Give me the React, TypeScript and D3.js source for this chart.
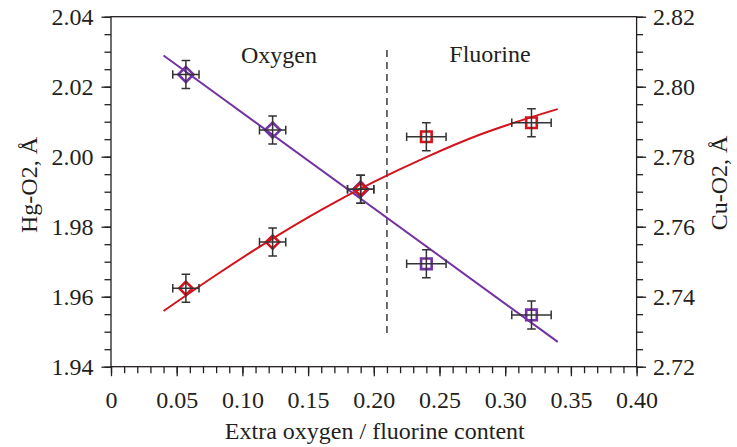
import React, { useEffect, useRef } from 'react'
import * as d3 from 'd3'

const xTicks = [0, 0.05, 0.1, 0.15, 0.2, 0.25, 0.3, 0.35, 0.4]
const hgTicks = [1.94, 1.96, 1.98, 2.0, 2.02, 2.04]
const cuTicks = [2.72, 2.74, 2.76, 2.78, 2.8, 2.82]

const content = [0.057, 0.123, 0.19, 0.24, 0.32]
const phase = ['O', 'O', 'O', 'F', 'F']
const contentErr = [0.01, 0.01, 0.01, 0.015, 0.015]
const hgO2 = [2.0235, 2.0076, 1.9907, 1.9694, 1.9548]
const cuO2 = [2.7424, 2.7556, 2.7707, 2.7857, 2.7897]
const distErr = [0.004, 0.004, 0.004, 0.004, 0.004]

const hgFitX = [0.04, 0.34]
const hgFitY = [2.0289, 1.9471]
const cuFitX = [0.04, 0.08, 0.12, 0.16, 0.2, 0.24, 0.28, 0.32, 0.34]
const cuFitY = [2.7359, 2.7462, 2.7559, 2.7648, 2.7728, 2.7799, 2.7862, 2.7913, 2.7936]

const boundary = 0.21

const W = 737
const H = 447
const margin = { left: 111, right: 100.4, top: 16.7, bottom: 80.3 }
const ink = '#231f20'
const purple = '#7232a3'
const red = '#d3141c'
const font = '"Liberation Serif", "Times New Roman", serif'

const App = () => {
    const ref = useRef<SVGSVGElement>(null)

    useEffect(() => {
        const svg = d3.select(ref.current)
        svg.selectAll('*').remove()

        const x = d3.scaleLinear().domain([0, 0.4]).range([margin.left, W - margin.right])
        const yHg = d3.scaleLinear().domain([1.94, 2.04]).range([H - margin.bottom, margin.top])
        const yCu = d3.scaleLinear().domain([2.72, 2.82]).range([H - margin.bottom, margin.top])

        const g = svg.append('g')

        // frame
        g.append('rect')
            .attr('x', x(0))
            .attr('y', yHg(2.04))
            .attr('width', x(0.4) - x(0))
            .attr('height', yHg(1.94) - yHg(2.04))
            .attr('fill', 'none')
            .attr('stroke', ink)
            .attr('stroke-width', 1.3)

        const styleAxis = sel => {
            sel.select('.domain').remove()
            sel.selectAll('line').attr('stroke', ink).attr('stroke-width', 1.3)
            sel.selectAll('text')
                .attr('fill', ink)
                .attr('font-family', font)
                .attr('font-size', 24)
        }

        // x axis
        g.append('g')
            .attr('transform', `translate(0,${yHg(1.94)})`)
            .call(d3.axisBottom(x).tickValues(d3.range(0, 0.4001, 0.01)).tickSize(6.5).tickFormat(() => ''))
            .call(styleAxis)
        g.append('g')
            .attr('transform', `translate(0,${yHg(1.94)})`)
            .call(d3.axisBottom(x).tickValues(xTicks).tickSize(9.5).tickPadding(15)
                .tickFormat(d => d === 0 ? '0' : d3.format('.2f')(d)))
            .call(styleAxis)

        // left axis
        g.append('g')
            .attr('transform', `translate(${x(0)},0)`)
            .call(d3.axisLeft(yHg).tickValues(d3.range(1.94, 2.0401, 0.005)).tickSize(6.5).tickFormat(() => ''))
            .call(styleAxis)
        g.append('g')
            .attr('transform', `translate(${x(0)},0)`)
            .call(d3.axisLeft(yHg).tickValues(hgTicks).tickSize(9.5).tickPadding(8).tickFormat(d3.format('.2f')))
            .call(styleAxis)

        // right axis
        g.append('g')
            .attr('transform', `translate(${x(0.4)},0)`)
            .call(d3.axisRight(yCu).tickValues(d3.range(2.72, 2.8201, 0.005)).tickSize(6.5).tickFormat(() => ''))
            .call(styleAxis)
        g.append('g')
            .attr('transform', `translate(${x(0.4)},0)`)
            .call(d3.axisRight(yCu).tickValues(cuTicks).tickSize(9.5).tickPadding(7).tickFormat(d3.format('.2f')))
            .call(styleAxis)

        // axis titles
        g.append('text')
            .attr('x', (x(0) + x(0.4)) / 2 + 1)
            .attr('y', 439)
            .attr('text-anchor', 'middle')
            .attr('font-family', font)
            .attr('font-size', 24)
            .attr('fill', ink)
            .text('Extra oxygen / fluorine content')

        g.append('text')
            .attr('transform', 'translate(37,185) rotate(-90)')
            .attr('text-anchor', 'middle')
            .attr('font-family', font)
            .attr('font-size', 24)
            .attr('fill', ink)
            .text('Hg-O2, Å')

        g.append('text')
            .attr('transform', 'translate(727,183) rotate(-90)')
            .attr('text-anchor', 'middle')
            .attr('font-family', font)
            .attr('font-size', 24)
            .attr('fill', ink)
            .text('Cu-O2, Å')

        // oxygen / fluorine boundary
        g.append('line')
            .attr('x1', x(boundary))
            .attr('x2', x(boundary))
            .attr('y1', yHg(2.0305))
            .attr('y2', yHg(1.9486))
            .attr('stroke', '#3a3a3a')
            .attr('stroke-width', 1.5)
            .attr('stroke-dasharray', '7,5')

        g.append('text')
            .attr('x', 279)
            .attr('y', 63)
            .attr('text-anchor', 'middle')
            .attr('font-family', font)
            .attr('font-size', 24)
            .attr('fill', ink)
            .text('Oxygen')

        g.append('text')
            .attr('x', 490)
            .attr('y', 62)
            .attr('text-anchor', 'middle')
            .attr('font-family', font)
            .attr('font-size', 24)
            .attr('fill', ink)
            .text('Fluorine')

        // fits
        g.append('path')
            .attr('d', d3.line()(hgFitX.map((v, i) => [x(v), yHg(hgFitY[i])])))
            .attr('fill', 'none')
            .attr('stroke', purple)
            .attr('stroke-width', 2)

        g.append('path')
            .attr('d', d3.line().curve(d3.curveMonotoneX)(cuFitX.map((v, i) => [x(v), yCu(cuFitY[i])])))
            .attr('fill', 'none')
            .attr('stroke', red)
            .attr('stroke-width', 2)

        const series = [
            { values: hgO2, y: yHg, color: purple, r: 7.6 },
            { values: cuO2, y: yCu, color: red, r: 6.6 },
        ]

        // markers
        series.forEach(s => {
            g.append('g')
                .selectAll('path')
                .data(content)
                .join('path')
                .attr('transform', (d, i) => `translate(${x(d)},${s.y(s.values[i])})`)
                .attr('d', (d, i) => phase[i] === 'O'
                    ? `M0,${-s.r}L${s.r},0L0,${s.r}L${-s.r},0Z`
                    : 'M-5.3,-5.3H5.3V5.3H-5.3Z')
                .attr('fill', 'none')
                .attr('stroke', s.color)
                .attr('stroke-width', 2.6)
        })

        // error bars
        series.forEach(s => {
            const eb = g.append('g')
                .attr('stroke', '#333')
                .attr('stroke-width', 1.5)
                .attr('fill', 'none')
            content.forEach((d, i) => {
                const cx = x(d)
                const cy = s.y(s.values[i])
                const x0 = x(d - contentErr[i])
                const x1 = x(d + contentErr[i])
                const y0 = s.y(s.values[i] + distErr[i])
                const y1 = s.y(s.values[i] - distErr[i])
                eb.append('path')
                    .attr('d', `M${x0},${cy}H${x1}M${x0},${cy - 4.3}V${cy + 4.3}M${x1},${cy - 4.3}V${cy + 4.3}` +
                        `M${cx},${y0}V${y1}M${cx - 4.3},${y0}H${cx + 4.3}M${cx - 4.3},${y1}H${cx + 4.3}`)
            })
        })
    }, [])

    return (
        <div style={{ position: 'absolute', left: 0, top: 0, width: W, height: H, background: '#fff' }}>
            <svg ref={ref} width={W} height={H} viewBox={`0 0 ${W} ${H}`} style={{ display: 'block' }} />
        </div>
    )
}

export default App
